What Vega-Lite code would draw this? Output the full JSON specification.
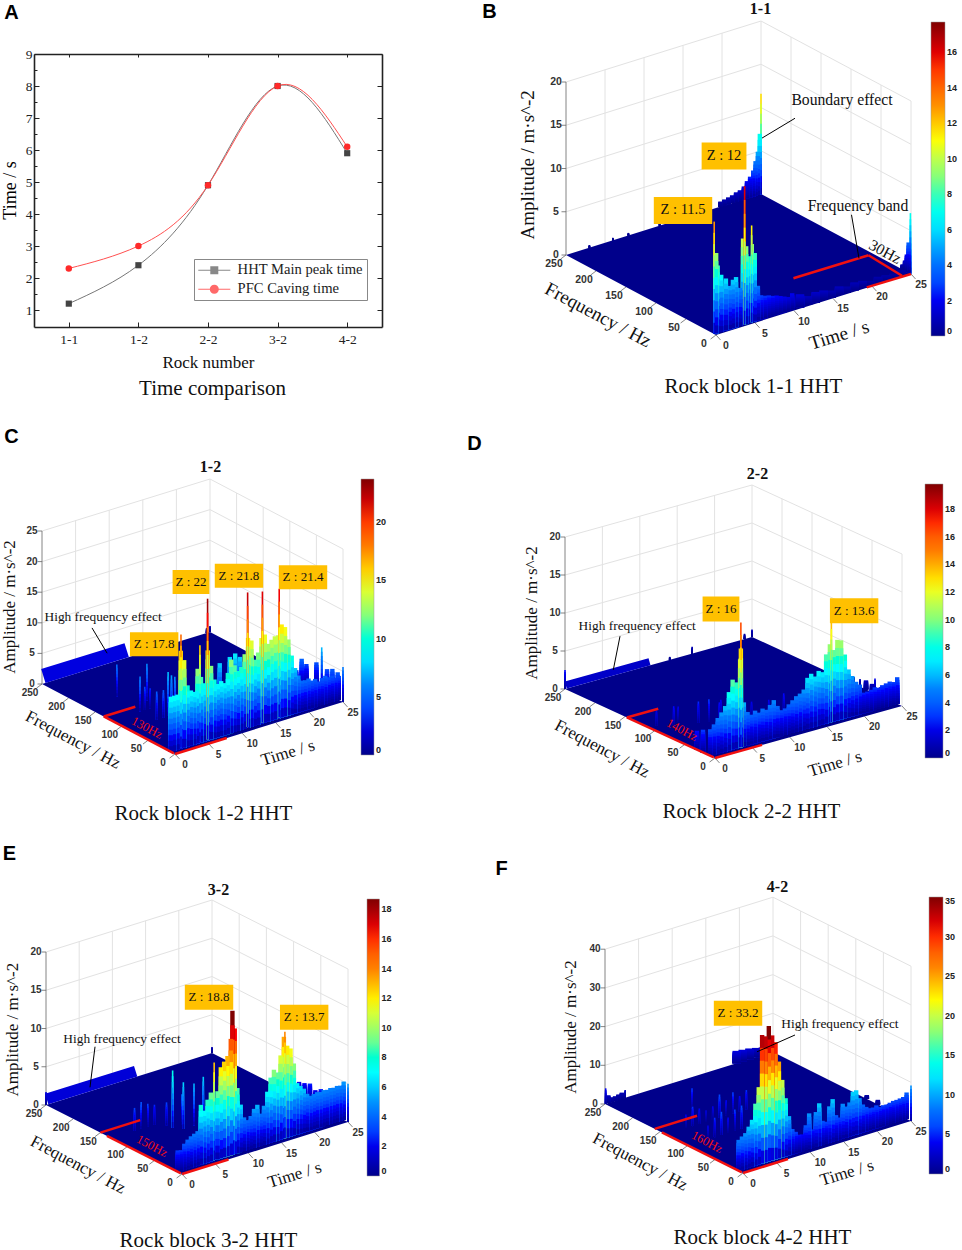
{"$schema":"https://vega.github.io/schema/vega-lite/v6.json","padding":0,"background":"white","columns":2,"spacing":0,"bounds":"flush","resolve":{"scale":{"color":"independent","shape":"independent"},"legend":{"color":"independent"}},
"config":{"view":{"stroke":null},"axisX":{"domain":false,"ticks":false,"labels":false,"grid":false,"titleFont":"Liberation Serif","titleFontSize":21,"titleFontWeight":"normal","titleAlign":"center","titleBaseline":"middle","titleColor":"#111"},"axisY":{"domain":false,"ticks":false,"labels":false,"grid":false,"titleFont":"Liberation Sans","titleFontSize":20,"titleFontWeight":"bold","titleAlign":"center","titleBaseline":"middle","titleColor":"#000"},"title":{"font":"Liberation Serif","fontSize":16,"fontWeight":"bold","offset":0,"baseline":"middle","anchor":"middle","color":"#111"},"legend":{"orient":"none","direction":"vertical","labelFont":"Liberation Sans","labelFontSize":9,"labelFontWeight":"bold","labelColor":"#222","labelOverlap":false,"gradientStrokeColor":"#999","gradientStrokeWidth":0.5}},
"datasets":{
"rocks":[{"rock":"1-1","series":"HHT Main peak time","time":1.2},{"rock":"1-2","series":"HHT Main peak time","time":2.4},{"rock":"2-2","series":"HHT Main peak time","time":4.9},{"rock":"3-2","series":"HHT Main peak time","time":8},{"rock":"4-2","series":"HHT Main peak time","time":5.9},{"rock":"1-1","series":"PFC Caving time","time":2.3},{"rock":"1-2","series":"PFC Caving time","time":3},{"rock":"2-2","series":"PFC Caving time","time":4.9},{"rock":"3-2","series":"PFC Caving time","time":8},{"rock":"4-2","series":"PFC Caving time","time":6.1}],
"b":[{"k":"g","t":0,"f":250,"z":5,"t2":25},{"k":"g","t":0,"f":250,"z":10,"t2":25},{"k":"g","t":0,"f":250,"z":15,"t2":25},{"k":"g","t":0,"f":250,"z":20,"t2":25},{"k":"g","t":25,"f":250,"z":5,"f2":0},{"k":"g","t":25,"f":250,"z":10,"f2":0},{"k":"g","t":25,"f":250,"z":15,"f2":0},{"k":"g","t":25,"f":250,"z":20,"f2":0},{"k":"g","t":5,"f":250,"z2":20},{"k":"g","t":10,"f":250,"z2":20},{"k":"g","t":15,"f":250,"z2":20},{"k":"g","t":20,"f":250,"z2":20},{"k":"g","t":25,"f":250,"z2":20},{"k":"g","t":25,"f":200,"z2":20},{"k":"g","t":25,"f":150,"z2":20},{"k":"g","t":25,"f":100,"z2":20},{"k":"g","t":25,"f":50,"z2":20},{"k":"g","t":25,"f":0,"z2":20},{"k":"a","f":250,"z2":20},
{"k":"tt","t":0},{"k":"tt","t":5},{"k":"tt","t":10},{"k":"tt","t":15},{"k":"tt","t":20},{"k":"tt","t":25},{"k":"ft","f":0},{"k":"ft","f":50},{"k":"ft","f":100},{"k":"ft","f":150},{"k":"ft","f":200},{"k":"ft","f":250},{"k":"zt","f":250,"z":0},{"k":"zt","f":250,"z":5},{"k":"zt","f":250,"z":10},{"k":"zt","f":250,"z":15},{"k":"zt","f":250,"z":20},
{"k":"s","t":0,"f":250},{"k":"s","t":19.23,"f":250,"t2":0,"f2":0},{"k":"s","t":25,"f":250,"t2":5.77,"f2":0},{"k":"s","t":25,"f":0},
{"k":"p","t":25,"f":250,"z":11.6},{"k":"m","t":24.85,"f":250,"z":7},{"k":"m","t":24.6,"f":250,"z":5},{"k":"m","t":24.3,"f":250,"z":4},{"k":"m","t":24,"f":250,"z":3},{"k":"m","t":23.6,"f":250,"z":2.4},{"k":"m","t":23.2,"f":250,"z":2},{"k":"m","t":22.8,"f":250,"z":1.5},{"k":"m","t":22.3,"f":250,"z":1.2},{"k":"m","t":21.8,"f":250,"z":1.1},{"k":"m","t":21.3,"f":250,"z":0.9},{"k":"m","t":20.8,"f":250,"z":0.8},{"k":"m","t":20.3,"f":250,"z":0.7},{"k":"m","t":19.8,"f":250,"z":0.6},{"k":"p","t":16,"f":250,"z":0.4},{"k":"p","t":12,"f":250,"z":0.4},{"k":"p","t":8,"f":250,"z":0.3},{"k":"p","t":6,"f":250,"z":0.3},{"k":"p","t":3,"f":250,"z":0.3},
{"k":"p","t":25,"f":1,"z":7},{"k":"m","t":25,"f":4,"z":3.5},{"k":"m","t":25,"f":7,"z":2},{"k":"m","t":25,"f":10,"z":1.2},{"k":"m","t":25,"f":14,"z":0.6},
{"k":"w","t":24,"f":3,"z":0.6},{"k":"w","t":23,"f":3,"z":0.5},{"k":"w","t":22,"f":3,"z":0.6},{"k":"w","t":21,"f":3,"z":0.7},{"k":"w","t":20,"f":3,"z":0.5},{"k":"w","t":19,"f":3,"z":0.8},{"k":"w","t":18,"f":3,"z":0.9},{"k":"w","t":17,"f":3,"z":0.7},{"k":"w","t":16,"f":3,"z":1},{"k":"w","t":15,"f":3,"z":0.8},{"k":"w","t":14,"f":3,"z":1.1},{"k":"w","t":13,"f":3,"z":1.2},{"k":"w","t":12,"f":3,"z":1},{"k":"w","t":11,"f":3,"z":1.5},
{"k":"m","t":10,"f":3,"z":1.9},{"k":"m","t":9.5,"f":3,"z":1.6},{"k":"m","t":9,"f":3,"z":1.8},{"k":"m","t":8.5,"f":3,"z":2},{"k":"m","t":8,"f":3,"z":2.2},{"k":"m","t":7.5,"f":3,"z":2.3},{"k":"m","t":7,"f":3,"z":2.5},{"k":"m","t":6.5,"f":3,"z":2.6},{"k":"m","t":6,"f":3,"z":2.8},{"k":"m","t":5.6,"f":3,"z":4},{"k":"m","t":5.2,"f":3,"z":7.9},{"k":"m","t":4.6,"f":3,"z":7.7},{"k":"p","t":5,"f":3,"z":9},{"k":"p","t":4.8,"f":3,"z":11.2},{"k":"m","t":4.1,"f":3,"z":9},{"k":"m","t":3.7,"f":3,"z":10},{"k":"p","t":3.9,"f":3,"z":16},{"k":"m","t":3.3,"f":3,"z":4.4},{"k":"m","t":2.8,"f":3,"z":5.8},{"k":"m","t":2.4,"f":3,"z":5.6},{"k":"m","t":2,"f":3,"z":5},{"k":"m","t":1.5,"f":3,"z":6},{"k":"m","t":0.9,"f":3,"z":6.6},{"k":"m","t":0.45,"f":3,"z":7.8},{"k":"m","t":0.25,"f":3,"z":9.3},{"k":"p","t":0,"f":3,"z":13},
{"k":"rl","t":14.85,"f":64,"t2":24.4,"f2":63},{"k":"rl","t":24.4,"f":63,"t2":24,"f2":2},{"k":"rl","t":19.4,"f":1,"t2":25,"f2":0},
{"k":"ln","t":10.13,"z":22.2,"t2":5.9,"z2":21.1},{"k":"ln","t":17.37,"z":9,"t2":18.33,"z2":3.7},
{"k":"b","text":"Z : 12","t":1.03,"z":20.4},{"k":"b","text":"Z : 11.5","t":-4.23,"z":15.6},{"k":"n","text":"Boundary effect","t":16.15,"z":22.6},{"k":"n","text":"Frequency band","t":18.2,"z":9.8},{"k":"aa","text":"30Hz","t":21.67,"z":3.5},{"k":"fl","text":"Frequency / Hz","t":-6.5,"f":112},{"k":"tl","text":"Time / s","t":9.95,"f":-76},{"k":"zl","text":"Amplitude / m·s^-2","t":-4.87,"f":250,"z":11.8}],
"c":[{"k":"g","t":0,"f":250,"z":5,"t2":25},{"k":"g","t":0,"f":250,"z":10,"t2":25},{"k":"g","t":0,"f":250,"z":15,"t2":25},{"k":"g","t":0,"f":250,"z":20,"t2":25},{"k":"g","t":0,"f":250,"z":25,"t2":25},{"k":"g","t":25,"f":250,"z":5,"f2":0},{"k":"g","t":25,"f":250,"z":10,"f2":0},{"k":"g","t":25,"f":250,"z":15,"f2":0},{"k":"g","t":25,"f":250,"z":20,"f2":0},{"k":"g","t":25,"f":250,"z":25,"f2":0},{"k":"g","t":5,"f":250,"z2":25},{"k":"g","t":10,"f":250,"z2":25},{"k":"g","t":15,"f":250,"z2":25},{"k":"g","t":20,"f":250,"z2":25},{"k":"g","t":25,"f":250,"z2":25},{"k":"g","t":25,"f":200,"z2":25},{"k":"g","t":25,"f":150,"z2":25},{"k":"g","t":25,"f":100,"z2":25},{"k":"g","t":25,"f":50,"z2":25},{"k":"g","t":25,"f":0,"z2":25},{"k":"a","f":250,"z2":25},
{"k":"tt","t":0},{"k":"tt","t":5},{"k":"tt","t":10},{"k":"tt","t":15},{"k":"tt","t":20},{"k":"tt","t":25},{"k":"ft","f":0},{"k":"ft","f":50},{"k":"ft","f":100},{"k":"ft","f":150},{"k":"ft","f":200},{"k":"ft","f":250},{"k":"zt","f":250,"z":0},{"k":"zt","f":250,"z":5},{"k":"zt","f":250,"z":10},{"k":"zt","f":250,"z":15},{"k":"zt","f":250,"z":20},{"k":"zt","f":250,"z":25},
{"k":"s","t":0,"f":250},{"k":"s","t":19.79,"f":250,"t2":0,"f2":0},{"k":"s","t":25,"f":250,"t2":5.21,"f2":0},{"k":"s","t":25,"f":0},
{"k":"st","t":0.2,"f":250,"z":1.25,"t2":12.6},
{"k":"p","t":25,"f":250,"z":1},{"k":"p","t":24.5,"f":250,"z":0.8},
{"k":"p","t":4.8,"f":170,"z":5.2},{"k":"p","t":6.9,"f":140,"z":6},{"k":"p","t":4.3,"f":120,"z":5.7},{"k":"p","t":5,"f":120,"z":3.8},{"k":"p","t":5.8,"f":120,"z":3.3},{"k":"p","t":6.8,"f":120,"z":2.1},{"k":"p","t":4.4,"f":90,"z":4.6},{"k":"p","t":5.4,"f":90,"z":4.5},{"k":"p","t":6.1,"f":90,"z":7.2},{"k":"p","t":6.6,"f":90,"z":6.5},{"k":"p","t":7.1,"f":90,"z":6.1},{"k":"m","t":12.2,"f":70,"z":7.5},{"k":"m","t":13.7,"f":70,"z":8},{"k":"m","t":14.5,"f":70,"z":8.3},{"k":"m","t":15.2,"f":70,"z":7.5},{"k":"p","t":21.8,"f":60,"z":2.5},{"k":"m","t":22.8,"f":60,"z":3.2},{"k":"m","t":23.6,"f":60,"z":4.8},{"k":"m","t":24.3,"f":60,"z":3.7},{"k":"m","t":25,"f":50,"z":4.2},{"k":"p","t":25,"f":40,"z":7.1},{"k":"m","t":25,"f":30,"z":4},{"k":"m","t":25,"f":20,"z":4.5},{"k":"m","t":25,"f":10,"z":4.4},{"k":"p","t":25,"f":0,"z":5.7},
{"k":"m","t":25,"f":8,"z":3.9},{"k":"m","t":24.5,"f":8,"z":3.7},{"k":"m","t":24,"f":8,"z":4.3},{"k":"m","t":23.5,"f":8,"z":4.2},{"k":"m","t":23,"f":8,"z":4.6},{"k":"m","t":22.5,"f":8,"z":4.4},{"k":"m","t":22,"f":8,"z":4},{"k":"m","t":21.5,"f":8,"z":4.6},{"k":"m","t":21,"f":8,"z":4.5},{"k":"m","t":20.5,"f":8,"z":5},{"k":"m","t":20,"f":8,"z":4.9},{"k":"m","t":19.5,"f":8,"z":5},{"k":"m","t":19,"f":8,"z":6},{"k":"m","t":18.5,"f":8,"z":7.4},{"k":"m","t":18,"f":8,"z":9.6},{"k":"m","t":17.5,"f":8,"z":12.4},{"k":"m","t":17,"f":8,"z":14.6},{"k":"m","t":16.5,"f":8,"z":15.2},{"k":"m","t":16,"f":8,"z":13.6},{"k":"m","t":15.5,"f":8,"z":13.6},{"k":"m","t":15,"f":8,"z":13.2},{"k":"m","t":14.5,"f":8,"z":12.7},{"k":"m","t":14,"f":8,"z":14.4},{"k":"m","t":13.5,"f":8,"z":14},{"k":"m","t":13,"f":8,"z":11.8},{"k":"m","t":12.5,"f":8,"z":10.8},{"k":"m","t":12,"f":8,"z":14.1},{"k":"m","t":11.5,"f":8,"z":14.7},{"k":"m","t":11,"f":8,"z":12.2},{"k":"m","t":10.5,"f":8,"z":10.3},{"k":"m","t":10,"f":8,"z":9.8},{"k":"m","t":9.5,"f":8,"z":10.9},{"k":"m","t":9,"f":8,"z":12},{"k":"m","t":8.5,"f":8,"z":10},{"k":"m","t":8,"f":8,"z":8.5},{"k":"m","t":7.5,"f":8,"z":9},{"k":"m","t":7,"f":8,"z":8.7},{"k":"m","t":6.5,"f":8,"z":9.6},{"k":"m","t":6,"f":8,"z":12},{"k":"m","t":5.5,"f":8,"z":14.7},{"k":"m","t":5,"f":8,"z":9.5},{"k":"m","t":4.5,"f":8,"z":10.7},{"k":"m","t":4,"f":8,"z":12.2},{"k":"m","t":3.5,"f":8,"z":8.6},{"k":"m","t":3,"f":8,"z":9},{"k":"m","t":2.5,"f":8,"z":10},{"k":"m","t":2,"f":8,"z":14.3},{"k":"m","t":1.5,"f":8,"z":16},{"k":"m","t":1,"f":8,"z":9},{"k":"m","t":0.5,"f":8,"z":9},{"k":"m","t":0,"f":8,"z":9},
{"k":"p","t":16.3,"f":10,"z":21},{"k":"p","t":13.8,"f":10,"z":21.4},{"k":"p","t":11.6,"f":10,"z":22},{"k":"p","t":5.64,"f":10,"z":23},{"k":"p","t":4.5,"f":10,"z":15.8},{"k":"p","t":1.68,"f":10,"z":18.5},
{"k":"rl","t":0,"f":2,"f2":134},{"k":"rl","t":0,"f":134,"t2":4.7},{"k":"rl","t":0,"f":0,"t2":7.7},
{"k":"ln","t":-12.35,"z":24.8,"t2":-10.1,"z2":19.9},
{"k":"b","text":"Z : 17.8","t":-3.1,"z":19},{"k":"b","text":"Z : 22","t":2.38,"z":27.3},{"k":"b","text":"Z : 21.8","t":9.52,"z":25.9},{"k":"b","text":"Z : 21.4","t":19.05,"z":22.4},{"k":"n","text":"High frequency effect","t":-10.7,"z":26},{"k":"r","text":"130Hz","t":-4.17,"z":5.7},{"k":"fl","text":"Frequency / Hz","t":-7.07,"f":102.5},{"k":"tl","text":"Time / s","t":10.77,"f":-76.4},{"k":"zl","text":"Amplitude / m·s^-2","t":-4.76,"f":250,"z":14.2}],
"d":[{"k":"g","t":0,"f":250,"z":5,"t2":25},{"k":"g","t":0,"f":250,"z":10,"t2":25},{"k":"g","t":0,"f":250,"z":15,"t2":25},{"k":"g","t":0,"f":250,"z":20,"t2":25},{"k":"g","t":25,"f":250,"z":5,"f2":0},{"k":"g","t":25,"f":250,"z":10,"f2":0},{"k":"g","t":25,"f":250,"z":15,"f2":0},{"k":"g","t":25,"f":250,"z":20,"f2":0},{"k":"g","t":5,"f":250,"z2":20},{"k":"g","t":10,"f":250,"z2":20},{"k":"g","t":15,"f":250,"z2":20},{"k":"g","t":20,"f":250,"z2":20},{"k":"g","t":25,"f":250,"z2":20},{"k":"g","t":25,"f":200,"z2":20},{"k":"g","t":25,"f":150,"z2":20},{"k":"g","t":25,"f":100,"z2":20},{"k":"g","t":25,"f":50,"z2":20},{"k":"g","t":25,"f":0,"z2":20},{"k":"a","f":250,"z2":20},
{"k":"tt","t":0},{"k":"tt","t":5},{"k":"tt","t":10},{"k":"tt","t":15},{"k":"tt","t":20},{"k":"tt","t":25},{"k":"ft","f":0},{"k":"ft","f":50},{"k":"ft","f":100},{"k":"ft","f":150},{"k":"ft","f":200},{"k":"ft","f":250},{"k":"zt","f":250,"z":0},{"k":"zt","f":250,"z":5},{"k":"zt","f":250,"z":10},{"k":"zt","f":250,"z":15},{"k":"zt","f":250,"z":20},
{"k":"s","t":0,"f":250},{"k":"s","t":20.05,"f":250,"t2":0,"f2":0},{"k":"s","t":25,"f":250,"t2":4.95,"f2":0},{"k":"s","t":25,"f":0},
{"k":"st","t":0.1,"f":250,"z":0.5,"t2":11.3},
{"k":"p","t":25,"f":250,"z":1},{"k":"p","t":24,"f":250,"z":0.7},{"k":"p","t":17,"f":250,"z":0.9},{"k":"p","t":14,"f":250,"z":0.4},{"k":"p","t":0,"f":250,"z":2.5},
{"k":"p","t":25,"f":80,"z":0.9},{"k":"p","t":25,"f":70,"z":1},{"k":"m","t":25,"f":60,"z":1.2},{"k":"m","t":25,"f":50,"z":1.1},{"k":"p","t":25,"f":45,"z":2},{"k":"m","t":25,"f":35,"z":1.2},{"k":"m","t":25,"f":25,"z":1.4},{"k":"m","t":25,"f":15,"z":1.6},
{"k":"p","t":1,"f":110,"z":2},{"k":"p","t":2.5,"f":100,"z":2.5},{"k":"p","t":3.5,"f":105,"z":2},{"k":"p","t":5,"f":90,"z":2.8},{"k":"p","t":6,"f":85,"z":3},{"k":"p","t":7,"f":80,"z":2.5},{"k":"p","t":8,"f":90,"z":2.2},{"k":"p","t":9,"f":70,"z":2.6},{"k":"p","t":10.5,"f":70,"z":2},{"k":"p","t":12,"f":60,"z":2.2},{"k":"p","t":14,"f":60,"z":2.5},{"k":"p","t":15,"f":50,"z":2},{"k":"m","t":0,"f":30,"z":2.5},{"k":"m","t":0,"f":20,"z":3},
{"k":"m","t":25,"f":8,"z":3.5},{"k":"m","t":24.5,"f":8,"z":3},{"k":"m","t":24,"f":8,"z":3.2},{"k":"m","t":23.5,"f":8,"z":3.1},{"k":"m","t":23,"f":8,"z":3},{"k":"m","t":22.5,"f":8,"z":2.8},{"k":"m","t":22,"f":8,"z":3},{"k":"m","t":21.5,"f":8,"z":2.8},{"k":"m","t":21,"f":8,"z":2.7},{"k":"m","t":20.5,"f":8,"z":2.7},{"k":"m","t":20,"f":8,"z":3.9},{"k":"m","t":19.5,"f":8,"z":4.4},{"k":"m","t":19,"f":8,"z":5.3},{"k":"m","t":18.5,"f":8,"z":6.3},{"k":"m","t":18,"f":8,"z":8.4},{"k":"m","t":17.5,"f":8,"z":10.4},{"k":"m","t":17,"f":8,"z":10.6},{"k":"m","t":16.5,"f":8,"z":9.4},{"k":"m","t":16,"f":8,"z":10.3},{"k":"m","t":15.5,"f":8,"z":9.1},{"k":"m","t":15,"f":8,"z":6.9},{"k":"m","t":14.5,"f":8,"z":7.2},{"k":"m","t":14,"f":8,"z":6.6},{"k":"m","t":13.5,"f":8,"z":7.1},{"k":"m","t":13,"f":8,"z":6.7},{"k":"m","t":12.5,"f":8,"z":5.3},{"k":"m","t":12,"f":8,"z":4.9},{"k":"m","t":11.5,"f":8,"z":4.7},{"k":"m","t":11,"f":8,"z":4.3},{"k":"m","t":10.5,"f":8,"z":3.9},{"k":"m","t":10,"f":8,"z":3.5},{"k":"m","t":9.5,"f":8,"z":3.4},{"k":"m","t":9,"f":8,"z":4.1},{"k":"m","t":8.5,"f":8,"z":5},{"k":"m","t":8,"f":8,"z":4.5},{"k":"m","t":7.5,"f":8,"z":4},{"k":"m","t":7,"f":8,"z":4.3},{"k":"m","t":6.5,"f":8,"z":3.9},{"k":"m","t":6,"f":8,"z":4.3},{"k":"m","t":5.5,"f":8,"z":3.9},{"k":"m","t":5,"f":8,"z":4.4},{"k":"m","t":4.5,"f":8,"z":5.8},{"k":"m","t":4,"f":8,"z":11.6},{"k":"m","t":3.5,"f":8,"z":8.7},{"k":"m","t":3,"f":8,"z":9.2},{"k":"m","t":2.5,"f":8,"z":7.7},{"k":"m","t":2,"f":8,"z":6},{"k":"m","t":1.5,"f":8,"z":5.3},{"k":"m","t":1,"f":8,"z":4.7},{"k":"m","t":0.5,"f":8,"z":4},{"k":"m","t":0,"f":8,"z":3.5},
{"k":"p","t":16.2,"f":8,"z":13.6},{"k":"m","t":4.1,"f":8,"z":13},{"k":"p","t":4.1,"f":8,"z":16.4},
{"k":"rl","t":0,"f":2,"f2":147},{"k":"rl","t":0,"f":147,"t2":4.2},{"k":"rl","t":0,"f":0,"t2":6.3},
{"k":"ln","t":-12.7,"z":19.5,"t2":-13.6,"z2":15.3},
{"k":"b","text":"Z : 16","t":0.8,"z":19.4},{"k":"b","text":"Z : 13.6","t":18.6,"z":14.3},{"k":"n","text":"High frequency effect","t":-10.4,"z":20.2},{"k":"r","text":"140Hz","t":-4.4,"z":4.9},{"k":"fl","text":"Frequency / Hz","t":-7.78,"f":91.3},{"k":"tl","text":"Time / s","t":8.92,"f":-89},{"k":"zl","text":"Amplitude / m·s^-2","t":-4.4,"f":250,"z":11.2}],
"e":[{"k":"g","t":0,"f":250,"z":5,"t2":25},{"k":"g","t":0,"f":250,"z":10,"t2":25},{"k":"g","t":0,"f":250,"z":15,"t2":25},{"k":"g","t":0,"f":250,"z":20,"t2":25},{"k":"g","t":25,"f":250,"z":5,"f2":0},{"k":"g","t":25,"f":250,"z":10,"f2":0},{"k":"g","t":25,"f":250,"z":15,"f2":0},{"k":"g","t":25,"f":250,"z":20,"f2":0},{"k":"g","t":5,"f":250,"z2":20},{"k":"g","t":10,"f":250,"z2":20},{"k":"g","t":15,"f":250,"z2":20},{"k":"g","t":20,"f":250,"z2":20},{"k":"g","t":25,"f":250,"z2":20},{"k":"g","t":25,"f":200,"z2":20},{"k":"g","t":25,"f":150,"z2":20},{"k":"g","t":25,"f":100,"z2":20},{"k":"g","t":25,"f":50,"z2":20},{"k":"g","t":25,"f":0,"z2":20},{"k":"a","f":250,"z2":20},
{"k":"tt","t":0},{"k":"tt","t":5},{"k":"tt","t":10},{"k":"tt","t":15},{"k":"tt","t":20},{"k":"tt","t":25},{"k":"ft","f":0},{"k":"ft","f":50},{"k":"ft","f":100},{"k":"ft","f":150},{"k":"ft","f":200},{"k":"ft","f":250},{"k":"zt","f":250,"z":0},{"k":"zt","f":250,"z":5},{"k":"zt","f":250,"z":10},{"k":"zt","f":250,"z":15},{"k":"zt","f":250,"z":20},
{"k":"s","t":0,"f":250},{"k":"s","t":20.48,"f":250,"t2":0,"f2":0},{"k":"s","t":25,"f":250,"t2":4.52,"f2":0},{"k":"s","t":25,"f":0},
{"k":"st","t":0.1,"f":250,"z":0.75,"t2":13.5},
{"k":"p","t":25,"f":250,"z":0.8},{"k":"p","t":0,"f":250,"z":1.7},
{"k":"m","t":25,"f":90,"z":2},{"k":"m","t":25,"f":80,"z":2.2},{"k":"m","t":25,"f":70,"z":2.5},{"k":"m","t":25,"f":60,"z":2},{"k":"m","t":25,"f":50,"z":2.5},{"k":"m","t":25,"f":40,"z":2.4},{"k":"m","t":25,"f":30,"z":2.8},{"k":"m","t":25,"f":20,"z":2.5},{"k":"m","t":25,"f":10,"z":3.5},{"k":"p","t":25,"f":0,"z":5},
{"k":"p","t":3.5,"f":130,"z":3},{"k":"p","t":4.5,"f":130,"z":3.5},{"k":"p","t":5.5,"f":130,"z":3},{"k":"p","t":6.5,"f":130,"z":2.6},{"k":"p","t":7.5,"f":120,"z":3},{"k":"p","t":7.6,"f":110,"z":7.5},{"k":"p","t":9,"f":110,"z":4},{"k":"p","t":8.4,"f":100,"z":6.1},{"k":"p","t":10,"f":100,"z":5.5},{"k":"p","t":11.4,"f":100,"z":6},{"k":"p","t":13,"f":90,"z":4},{"k":"p","t":15,"f":80,"z":3},{"k":"m","t":23,"f":70,"z":2.5},{"k":"m","t":21,"f":60,"z":2.2},
{"k":"m","t":25,"f":8,"z":5},{"k":"m","t":24.5,"f":8,"z":4.6},{"k":"m","t":24,"f":8,"z":4.7},{"k":"m","t":23.5,"f":8,"z":4.6},{"k":"m","t":23,"f":8,"z":4.7},{"k":"m","t":22.5,"f":8,"z":4.6},{"k":"m","t":22,"f":8,"z":4.7},{"k":"m","t":21.5,"f":8,"z":4.6},{"k":"m","t":21,"f":8,"z":4.7},{"k":"m","t":20.5,"f":8,"z":4.6},{"k":"m","t":20,"f":8,"z":4.5},{"k":"m","t":19.5,"f":8,"z":4.9},{"k":"m","t":19,"f":8,"z":5.7},{"k":"m","t":18.5,"f":8,"z":6.2},{"k":"m","t":18,"f":8,"z":6.7},{"k":"m","t":17.5,"f":8,"z":9.4},{"k":"m","t":17,"f":8,"z":11.5},{"k":"m","t":16.5,"f":8,"z":12},{"k":"m","t":16,"f":8,"z":13.3},{"k":"m","t":15.5,"f":8,"z":11},{"k":"m","t":15,"f":8,"z":8.9},{"k":"m","t":14.5,"f":8,"z":9.4},{"k":"m","t":14,"f":8,"z":8.5},{"k":"m","t":13.5,"f":8,"z":6.8},{"k":"m","t":13,"f":8,"z":5.1},{"k":"m","t":12.5,"f":8,"z":4.2},{"k":"m","t":12,"f":8,"z":5.5},{"k":"m","t":11.5,"f":8,"z":5.1},{"k":"m","t":11,"f":8,"z":4.3},{"k":"m","t":10.5,"f":8,"z":3.9},{"k":"m","t":10,"f":8,"z":4.4},{"k":"m","t":9.5,"f":8,"z":6.2},{"k":"m","t":9,"f":8,"z":8.5},{"k":"m","t":8.6,"f":8,"z":16.4},{"k":"m","t":8.25,"f":8,"z":18.8},{"k":"m","t":8,"f":8,"z":15.2},{"k":"m","t":7.5,"f":8,"z":13.1},{"k":"m","t":7,"f":8,"z":12.5},{"k":"m","t":6.5,"f":8,"z":11.9},{"k":"m","t":6,"f":8,"z":8.9},{"k":"p","t":5.5,"f":8,"z":12.8},{"k":"m","t":5,"f":8,"z":9},{"k":"m","t":4.5,"f":8,"z":8.2},{"k":"m","t":4,"f":8,"z":6.9},{"k":"m","t":3.5,"f":8,"z":7.8},{"k":"m","t":3,"f":8,"z":4.5},{"k":"m","t":2.5,"f":8,"z":4.3},{"k":"m","t":2,"f":8,"z":4.1},{"k":"m","t":1.5,"f":8,"z":3.8},{"k":"m","t":1,"f":8,"z":3.4},{"k":"m","t":0.5,"f":8,"z":2.7},{"k":"m","t":0,"f":8,"z":2.8},
{"k":"p","t":16.15,"f":8,"z":13.9},
{"k":"rl","t":0,"f":2,"f2":138},{"k":"rl","t":0,"f":150,"t2":6},{"k":"rl","t":0,"f":0,"t2":7},
{"k":"ln","t":-13.1,"z":20.2,"t2":-13.86,"z2":15.1},
{"k":"b","text":"Z : 18.8","t":4.07,"z":22},{"k":"b","text":"Z : 13.7","t":18.4,"z":15.5},{"k":"n","text":"High frequency effect","t":-9.04,"z":20.1},{"k":"r","text":"150Hz","t":-4.52,"z":4.9},{"k":"fl","text":"Frequency / Hz","t":-8.04,"f":93.2},{"k":"tl","text":"Time / s","t":10.3,"f":-81.5},{"k":"zl","text":"Amplitude / m·s^-2","t":-4.97,"f":250,"z":11.2}],
"f":[{"k":"g","t":0,"f":250,"z":10,"t2":25},{"k":"g","t":0,"f":250,"z":20,"t2":25},{"k":"g","t":0,"f":250,"z":30,"t2":25},{"k":"g","t":0,"f":250,"z":40,"t2":25},{"k":"g","t":25,"f":250,"z":10,"f2":0},{"k":"g","t":25,"f":250,"z":20,"f2":0},{"k":"g","t":25,"f":250,"z":30,"f2":0},{"k":"g","t":25,"f":250,"z":40,"f2":0},{"k":"g","t":5,"f":250,"z2":40},{"k":"g","t":10,"f":250,"z2":40},{"k":"g","t":15,"f":250,"z2":40},{"k":"g","t":20,"f":250,"z2":40},{"k":"g","t":25,"f":250,"z2":40},{"k":"g","t":25,"f":200,"z2":40},{"k":"g","t":25,"f":150,"z2":40},{"k":"g","t":25,"f":100,"z2":40},{"k":"g","t":25,"f":50,"z2":40},{"k":"g","t":25,"f":0,"z2":40},{"k":"a","f":250,"z2":40},
{"k":"tt","t":0},{"k":"tt","t":5},{"k":"tt","t":10},{"k":"tt","t":15},{"k":"tt","t":20},{"k":"tt","t":25},{"k":"ft","f":0},{"k":"ft","f":50},{"k":"ft","f":100},{"k":"ft","f":150},{"k":"ft","f":200},{"k":"ft","f":250},{"k":"zt","f":250,"z":0},{"k":"zt","f":250,"z":10},{"k":"zt","f":250,"z":20},{"k":"zt","f":250,"z":30},{"k":"zt","f":250,"z":40},
{"k":"s","t":0,"f":250},{"k":"s","t":20.54,"f":250,"t2":0,"f2":0},{"k":"s","t":25,"f":250,"t2":4.46,"f2":0},{"k":"s","t":25,"f":0},
{"k":"w","t":24.5,"f":250,"z":1.5},{"k":"w","t":23.5,"f":250,"z":2},{"k":"w","t":22.5,"f":250,"z":2.4},{"k":"w","t":21.5,"f":250,"z":2.8},{"k":"w","t":20.5,"f":250,"z":3},{"k":"w","t":19.6,"f":250,"z":3.2},{"k":"p","t":3,"f":250,"z":2},{"k":"m","t":2.5,"f":250,"z":1.6},{"k":"m","t":2,"f":250,"z":1.4},{"k":"m","t":1.5,"f":250,"z":1.2},{"k":"m","t":1,"f":250,"z":1.2},{"k":"m","t":0.5,"f":250,"z":2},{"k":"p","t":0.1,"f":250,"z":4},
{"k":"m","t":25,"f":80,"z":1},{"k":"m","t":25,"f":60,"z":1.2},{"k":"m","t":25,"f":40,"z":1.5},{"k":"m","t":25,"f":20,"z":2},
{"k":"p","t":7.2,"f":180,"z":5.2},{"k":"p","t":3,"f":140,"z":3.5},{"k":"p","t":4,"f":140,"z":5},{"k":"p","t":5,"f":140,"z":4},{"k":"p","t":6,"f":140,"z":3},{"k":"p","t":7,"f":140,"z":3.5},{"k":"p","t":8,"f":140,"z":6},{"k":"p","t":9,"f":140,"z":4},{"k":"p","t":10,"f":140,"z":5.5},{"k":"p","t":11,"f":140,"z":4},{"k":"p","t":12,"f":140,"z":5},{"k":"p","t":3,"f":100,"z":3.5},{"k":"p","t":4,"f":100,"z":5},{"k":"p","t":5,"f":100,"z":6},{"k":"p","t":6,"f":100,"z":4},{"k":"p","t":7,"f":100,"z":5.5},{"k":"p","t":8,"f":100,"z":6},
{"k":"m","t":25,"f":8,"z":6.8},{"k":"m","t":24.5,"f":8,"z":5.9},{"k":"m","t":24,"f":8,"z":5.8},{"k":"m","t":23.5,"f":8,"z":5.7},{"k":"m","t":23,"f":8,"z":5.7},{"k":"m","t":22.5,"f":8,"z":5.5},{"k":"m","t":22,"f":8,"z":5.3},{"k":"m","t":21.5,"f":8,"z":5.4},{"k":"m","t":21,"f":8,"z":5.2},{"k":"m","t":20.5,"f":8,"z":5.9},{"k":"m","t":20,"f":8,"z":5.6},{"k":"m","t":19.5,"f":8,"z":5.7},{"k":"m","t":19,"f":8,"z":6.3},{"k":"m","t":18.5,"f":8,"z":7.2},{"k":"m","t":18,"f":8,"z":9.1},{"k":"m","t":17.5,"f":8,"z":11.4},{"k":"m","t":17,"f":8,"z":11.3},{"k":"m","t":16.5,"f":8,"z":8.8},{"k":"m","t":16,"f":8,"z":8},{"k":"m","t":15.5,"f":8,"z":9},{"k":"m","t":15,"f":8,"z":5.7},{"k":"m","t":14.5,"f":8,"z":6.6},{"k":"m","t":14,"f":8,"z":11},{"k":"m","t":13.5,"f":8,"z":9.4},{"k":"m","t":13,"f":8,"z":5.7},{"k":"m","t":12.5,"f":8,"z":6.2},{"k":"m","t":12,"f":8,"z":11},{"k":"m","t":11.5,"f":8,"z":9},{"k":"m","t":11,"f":8,"z":4.8},{"k":"m","t":10.5,"f":8,"z":9.2},{"k":"m","t":10,"f":8,"z":6.4},{"k":"m","t":9.5,"f":8,"z":4.3},{"k":"m","t":9,"f":8,"z":4.5},{"k":"m","t":8.5,"f":8,"z":5.5},{"k":"m","t":8,"f":8,"z":6.5},{"k":"m","t":7.5,"f":8,"z":10.1},{"k":"m","t":7,"f":8,"z":15},{"k":"m","t":6.5,"f":8,"z":20},{"k":"m","t":6,"f":8,"z":25},{"k":"m","t":5.5,"f":8,"z":30.3},{"k":"m","t":5,"f":8,"z":32.3},{"k":"m","t":4.5,"f":8,"z":35},{"k":"m","t":4,"f":8,"z":32.6},{"k":"m","t":3.5,"f":8,"z":33.2},{"k":"m","t":3,"f":8,"z":20},{"k":"m","t":2.5,"f":8,"z":16},{"k":"m","t":2,"f":8,"z":12.1},{"k":"m","t":1.5,"f":8,"z":10.6},{"k":"m","t":1,"f":8,"z":9.2},{"k":"m","t":0.5,"f":8,"z":8.6},{"k":"m","t":0,"f":8,"z":8},
{"k":"p","t":25,"f":0,"z":9.2},
{"k":"rl","t":0,"f":2,"f2":147},{"k":"rl","t":0,"f":160,"t2":6.3},{"k":"rl","t":0,"f":0,"t2":6.7},
{"k":"ln","t":7.74,"z":31.5,"t2":2.08,"z2":30.2},
{"k":"b","text":"Z : 33.2","t":-0.74,"z":41.7},{"k":"n","text":"High frequency effect","t":14.43,"z":30.7},{"k":"r","text":"160Hz","t":-5.36,"z":10.9},{"k":"fl","text":"Frequency / Hz","t":-7.44,"f":96},{"k":"tl","text":"Time / s","t":9.56,"f":-72},{"k":"zl","text":"Amplitude / m·s^-2","t":-5.06,"f":250,"z":22.6}]
},
"concat":[
{"width":481,"height":415,"data":{"name":"rocks"},"resolve":{"axis":{"x":"independent","y":"independent"}},"encoding":{"x":{"field":"rock","type":"ordinal","scale":{"type":"point","padding":0.5,"range":[34,382]},"axis":null},"y":{"field":"time","type":"quantitative","scale":{"domain":[0.47,9],"range":[327,54]},"axis":null}},"layer":[
{"transform":[{"filter":"datum.series=='HHT Main peak time'"}],"mark":{"type":"line","interpolate":"natural","strokeWidth":1,"stroke":"#777"},"encoding":{"x":{"field":"rock","type":"ordinal","axis":{"orient":"bottom","offset":-88,"domain":true,"domainWidth":1.6,"domainColor":"#222","ticks":true,"tickColor":"#222","tickSize":-5,"labels":true,"labelAngle":0,"labelFont":"Liberation Serif","labelFontSize":13.5,"labelColor":"#222","labelPadding":10,"title":"Rock number","titleFontSize":17,"titleX":208,"titleY":35}},"y":{"field":"time","type":"quantitative","axis":{"orient":"left","offset":-34,"domain":true,"domainWidth":1.6,"domainColor":"#222","ticks":true,"tickColor":"#222","tickSize":-5,"values":[1,2,3,4,5,6,7,8,9],"labels":true,"labelFont":"Liberation Serif","labelFontSize":13.5,"labelColor":"#222","labelPadding":7,"title":"Time / s","titleFont":"Liberation Serif","titleFontSize":18,"titleFontWeight":"normal","titleX":-24,"titleY":190}}}},
{"transform":[{"filter":"datum.series=='PFC Caving time'"}],"mark":{"type":"line","interpolate":"natural","strokeWidth":1,"stroke":"#ff5050"}},
{"transform":[{"filter":"datum.series=='HHT Main peak time'"}],"mark":{"type":"point","shape":"square","filled":true,"size":38,"fill":"#444","opacity":1}},
{"transform":[{"filter":"datum.series=='PFC Caving time'"}],"mark":{"type":"point","shape":"circle","filled":true,"size":42,"fill":"#ff2a2a","opacity":1}},
{"mark":{"type":"point","filled":true,"size":0},"encoding":{"color":{"field":"series","type":"nominal","scale":{"domain":["HHT Main peak time","PFC Caving time"],"range":["#555555","#ff2a2a"]},"legend":{"legendX":194,"legendY":259,"title":null,"strokeColor":"#888","padding":4,"labelFont":"Liberation Serif","labelFontSize":14.6,"labelFontWeight":"normal","labelLimit":200,"symbolSize":114,"symbolOffset":9,"labelOffset":16,"rowPadding":4}},"shape":{"field":"series","type":"nominal","scale":{"domain":["HHT Main peak time","PFC Caving time"],"range":["M-3,-0.1H3V0.1H-3Z M-0.75,-0.75H0.75V0.75H-0.75Z","M-3,-0.1H3V0.1H-3Z M-0.85,0A0.85,0.85 0 1,1 0.85,0A0.85,0.85 0 1,1 -0.85,0Z"]},"legend":{"legendX":194,"legendY":259,"title":null}}}},
{"mark":{"type":"point","opacity":0},"encoding":{"x":{"field":"rock","type":"ordinal","axis":{"orient":"top","offset":-54,"domain":true,"domainWidth":1.6,"domainColor":"#222","ticks":true,"tickColor":"#222","tickSize":-3,"title":"Time comparison","titleX":212,"titleY":334}},"y":{"field":"time","type":"quantitative","axis":{"orient":"right","offset":-99,"domain":true,"domainWidth":1.6,"domainColor":"#222","ticks":true,"tickColor":"#222","tickSize":-5,"values":[1,2,3,4,5,6,7,8,9],"title":"A","titleAngle":0,"titleX":-371,"titleY":12}}}},
{"mark":{"type":"point","opacity":0},"encoding":{"y":{"field":"time","type":"quantitative","axis":{"orient":"left","offset":-34,"ticks":true,"tickColor":"#222","tickSize":-3,"values":[1.5,2.5,3.5,4.5,5.5,6.5,7.5,8.5],"title":null}}}}
]},
{"width":481,"height":415,"title":{"text":"1-1","dx":39,"dy":21},"data":{"name":"b"},"resolve":{"axis":{"x":"independent","y":"independent"}},
"transform":[{"calculate":"datum.k=='tt'?10:datum.k=='ft'?-12:datum.k=='zt'?-10:0","as":"dx"},{"calculate":"datum.k=='tt'?11:datum.k=='ft'?9:0","as":"dy"},{"calculate":"235+7.8*(datum.t||0)-0.6*(datum.f||0)","as":"bx"},{"calculate":"335-2.44*(datum.t||0)-0.32*(datum.f||0)-8.65*(datum.z||0)","as":"by"},{"calculate":"datum.dx||datum.dy?datum.bx+0.45*datum.dx:235+7.8*(isValid(datum.t2)?datum.t2:datum.t||0)-0.6*(isValid(datum.f2)?datum.f2:datum.f||0)","as":"x1"},{"calculate":"datum.dx||datum.dy?datum.by+0.45*datum.dy:335-2.44*(isValid(datum.t2)?datum.t2:datum.t||0)-0.32*(isValid(datum.f2)?datum.f2:datum.f||0)-8.65*(isValid(datum.z2)?datum.z2:datum.z||0)","as":"y1"}],
"encoding":{"x":{"field":"bx","type":"quantitative","scale":{"domain":[0,481]},"axis":null},"y":{"field":"by","type":"quantitative","scale":{"domain":[415,0]},"axis":null}},
"layer":[
{"transform":[{"filter":"datum.k=='g'"}],"mark":{"type":"rule","stroke":"#e2e2e2","strokeWidth":1},"encoding":{"x":{"field":"bx","type":"quantitative","axis":{"orient":"top","title":"Rock block 1-1 HHT","titleX":272,"titleY":386}},"y":{"field":"by","type":"quantitative","axis":{"orient":"left","title":"B","titleAngle":0,"titleX":8,"titleY":11}},"x2":{"field":"x1"},"y2":{"field":"y1"}}},
{"transform":[{"filter":"indexof(['a','tt','ft','zt'],datum.k)>=0"}],"mark":{"type":"rule","stroke":"#666","strokeWidth":0.8},"encoding":{"x2":{"field":"x1"},"y2":{"field":"y1"}}},
{"transform":[{"filter":"datum.k=='s'"}],"mark":{"type":"area","orient":"vertical","fill":"#00008b"},"encoding":{"y2":{"field":"y1"}}},
{"transform":[{"filter":"indexof(['m','p','w'],datum.k)>=0"},{"calculate":"[1,0.9,0.8,0.7,0.6,0.5,0.4,0.3,0.2,0.1]","as":"lv"},{"flatten":["lv"]},{"calculate":"datum.z*datum.lv","as":"amp"},{"calculate":"datum.by+(1-datum.lv)*datum.z*8.65","as":"ys"},{"calculate":"datum.by+datum.z*8.65","as":"yb"},{"calculate":"datum.k=='m'?4.4:datum.k=='w'?8.5:1.6","as":"w"}],"mark":"rule","encoding":{"y":{"field":"ys","type":"quantitative","axis":null},"y2":{"field":"yb"},"size":{"field":"w","type":"quantitative","scale":null},"color":{"field":"amp","type":"quantitative","scale":{"clamp":true,"domain":[0,2.21,4.43,6.64,8.85,11.06,13.28,15.49,17.7],"range":["#00008b","#0000ff","#007fff","#00ffff","#7fff7f","#ffff00","#ff7f00","#ff0000","#800000"]},"legend":{"title":null,"legendX":450,"legendY":22,"gradientLength":314,"gradientThickness":14,"values":[0,2,4,6,8,10,12,14,16]}}}},
{"transform":[{"filter":"datum.k=='rl'"}],"mark":{"type":"rule","stroke":"#f01010","strokeWidth":2.5},"encoding":{"x2":{"field":"x1"},"y2":{"field":"y1"}}},
{"transform":[{"filter":"datum.k=='ln'"}],"mark":{"type":"rule","stroke":"#000","strokeWidth":1},"encoding":{"x2":{"field":"x1"},"y2":{"field":"y1"}}},
{"transform":[{"filter":"datum.k=='b'"},{"calculate":"datum.bx-length(datum.text)*3.4-2","as":"xl"},{"calculate":"datum.bx+length(datum.text)*3.4+2","as":"xr"}],"mark":{"type":"rule","stroke":"#ffc000","strokeWidth":27},"encoding":{"x":{"field":"xl","type":"quantitative","axis":null},"x2":{"field":"xr"}}},
{"transform":[{"filter":"indexof(['b','n','aa','fl','tl','zl'],datum.k)>=0"},{"calculate":"datum.k=='fl'||datum.k=='aa'?28:datum.k=='tl'?-17:datum.k=='zl'?-90:0","as":"ang"},{"calculate":"datum.k=='b'?14.5:datum.k=='n'||datum.k=='aa'?15.7:19","as":"fs"}],"mark":{"type":"text","font":"Liberation Serif","fill":"#111"},"encoding":{"text":{"field":"text"},"angle":{"field":"ang","type":"quantitative","scale":null},"size":{"field":"fs","type":"quantitative","scale":null}}},
{"transform":[{"filter":"indexof(['tt','ft','zt'],datum.k)>=0"},{"calculate":"datum.bx+datum.dx","as":"x0"},{"calculate":"datum.by+datum.dy","as":"y0"},{"calculate":"''+(datum.k=='tt'?datum.t:datum.k=='ft'?datum.f:datum.z)","as":"lab"}],"mark":{"type":"text","font":"Liberation Sans","fontWeight":"bold","fontSize":10.5,"fill":"#333"},"encoding":{"x":{"field":"x0","type":"quantitative","axis":null},"y":{"field":"y0","type":"quantitative","axis":null},"text":{"field":"lab"}}}
]},
{"width":481,"height":425,"title":{"text":"1-2","dx":-30,"dy":64},"data":{"name":"c"},"resolve":{"axis":{"x":"independent","y":"independent"}},
"transform":[{"calculate":"datum.k=='tt'?10:datum.k=='ft'?-12:datum.k=='zt'?-10:0","as":"dx"},{"calculate":"datum.k=='tt'?11:datum.k=='ft'?9:0","as":"dy"},{"calculate":"175+6.72*(datum.t||0)-0.532*(datum.f||0)","as":"bx"},{"calculate":"339-2.08*(datum.t||0)-0.28*(datum.f||0)-6.12*(datum.z||0)","as":"by"},{"calculate":"datum.dx||datum.dy?datum.bx+0.45*datum.dx:175+6.72*(isValid(datum.t2)?datum.t2:datum.t||0)-0.532*(isValid(datum.f2)?datum.f2:datum.f||0)","as":"x1"},{"calculate":"datum.dx||datum.dy?datum.by+0.45*datum.dy:339-2.08*(isValid(datum.t2)?datum.t2:datum.t||0)-0.28*(isValid(datum.f2)?datum.f2:datum.f||0)-6.12*(isValid(datum.z2)?datum.z2:datum.z||0)","as":"y1"}],
"encoding":{"x":{"field":"bx","type":"quantitative","scale":{"domain":[0,481]},"axis":null},"y":{"field":"by","type":"quantitative","scale":{"domain":[425,0]},"axis":null}},
"layer":[
{"transform":[{"filter":"datum.k=='g'"}],"mark":{"type":"rule","stroke":"#e2e2e2","strokeWidth":1},"encoding":{"x":{"field":"bx","type":"quantitative","axis":{"orient":"top","title":"Rock block 1-2 HHT","titleX":203,"titleY":398}},"y":{"field":"by","type":"quantitative","axis":{"orient":"left","title":"C","titleAngle":0,"titleX":11,"titleY":21}},"x2":{"field":"x1"},"y2":{"field":"y1"}}},
{"transform":[{"filter":"indexof(['a','tt','ft','zt'],datum.k)>=0"}],"mark":{"type":"rule","stroke":"#666","strokeWidth":0.8},"encoding":{"x2":{"field":"x1"},"y2":{"field":"y1"}}},
{"transform":[{"filter":"datum.k=='s'"}],"mark":{"type":"area","orient":"vertical","fill":"#00008b"},"encoding":{"y2":{"field":"y1"}}},
{"transform":[{"filter":"datum.k=='st'"}],"mark":{"type":"rule","stroke":"#0000e0","strokeWidth":14.6},"encoding":{"x2":{"field":"x1"},"y2":{"field":"y1"}}},
{"transform":[{"filter":"indexof(['m','p','w'],datum.k)>=0"},{"calculate":"[1,0.9,0.8,0.7,0.6,0.5,0.4,0.3,0.2,0.1]","as":"lv"},{"flatten":["lv"]},{"calculate":"datum.z*datum.lv","as":"amp"},{"calculate":"datum.by+(1-datum.lv)*datum.z*6.12","as":"ys"},{"calculate":"datum.by+datum.z*6.12","as":"yb"},{"calculate":"datum.k=='m'?4.4:datum.k=='w'?8.5:1.6","as":"w"}],"mark":"rule","encoding":{"y":{"field":"ys","type":"quantitative","axis":null},"y2":{"field":"yb"},"size":{"field":"w","type":"quantitative","scale":null},"color":{"field":"amp","type":"quantitative","scale":{"clamp":true,"domain":[0,2.96,5.93,8.89,11.85,14.81,17.78,20.74,23.7],"range":["#00008b","#0000ff","#007fff","#00ffff","#7fff7f","#ffff00","#ff7f00","#ff0000","#800000"]},"legend":{"title":null,"legendX":361,"legendY":64,"gradientLength":276,"gradientThickness":13,"values":[0,5,10,15,20]}}}},
{"transform":[{"filter":"datum.k=='rl'"}],"mark":{"type":"rule","stroke":"#f01010","strokeWidth":2.5},"encoding":{"x2":{"field":"x1"},"y2":{"field":"y1"}}},
{"transform":[{"filter":"datum.k=='ln'"}],"mark":{"type":"rule","stroke":"#000","strokeWidth":1},"encoding":{"x2":{"field":"x1"},"y2":{"field":"y1"}}},
{"transform":[{"filter":"datum.k=='b'"},{"calculate":"datum.bx-length(datum.text)*2.9-1","as":"xl"},{"calculate":"datum.bx+length(datum.text)*2.9+1","as":"xr"}],"mark":{"type":"rule","stroke":"#ffc000","strokeWidth":24},"encoding":{"x":{"field":"xl","type":"quantitative","axis":null},"x2":{"field":"xr"}}},
{"transform":[{"filter":"indexof(['b','n','aa','fl','tl','zl'],datum.k)>=0"},{"calculate":"datum.k=='fl'||datum.k=='aa'?28:datum.k=='tl'?-17:datum.k=='zl'?-90:0","as":"ang"},{"calculate":"datum.k=='b'?13:datum.k=='n'||datum.k=='aa'?13.4:17","as":"fs"}],"mark":{"type":"text","font":"Liberation Serif","fill":"#111"},"encoding":{"text":{"field":"text"},"angle":{"field":"ang","type":"quantitative","scale":null},"size":{"field":"fs","type":"quantitative","scale":null}}},
{"transform":[{"filter":"datum.k=='r'"}],"mark":{"type":"text","font":"Liberation Serif","fill":"#f01010","fontSize":12.5,"angle":28},"encoding":{"text":{"field":"text"}}},
{"transform":[{"filter":"indexof(['tt','ft','zt'],datum.k)>=0"},{"calculate":"datum.bx+datum.dx","as":"x0"},{"calculate":"datum.by+datum.dy","as":"y0"},{"calculate":"''+(datum.k=='tt'?datum.t:datum.k=='ft'?datum.f:datum.z)","as":"lab"}],"mark":{"type":"text","font":"Liberation Sans","fontWeight":"bold","fontSize":10,"fill":"#333"},"encoding":{"x":{"field":"x0","type":"quantitative","axis":null},"y":{"field":"y0","type":"quantitative","axis":null},"text":{"field":"lab"}}}
]},
{"width":481,"height":425,"title":{"text":"2-2","dx":36,"dy":71},"data":{"name":"d"},"resolve":{"axis":{"x":"independent","y":"independent"}},
"transform":[{"calculate":"datum.k=='tt'?10:datum.k=='ft'?-12:datum.k=='zt'?-10:0","as":"dx"},{"calculate":"datum.k=='tt'?11:datum.k=='ft'?9:0","as":"dy"},{"calculate":"234+7.48*(datum.t||0)-0.6*(datum.f||0)","as":"bx"},{"calculate":"343-2.08*(datum.t||0)-0.276*(datum.f||0)-7.6*(datum.z||0)","as":"by"},{"calculate":"datum.dx||datum.dy?datum.bx+0.45*datum.dx:234+7.48*(isValid(datum.t2)?datum.t2:datum.t||0)-0.6*(isValid(datum.f2)?datum.f2:datum.f||0)","as":"x1"},{"calculate":"datum.dx||datum.dy?datum.by+0.45*datum.dy:343-2.08*(isValid(datum.t2)?datum.t2:datum.t||0)-0.276*(isValid(datum.f2)?datum.f2:datum.f||0)-7.6*(isValid(datum.z2)?datum.z2:datum.z||0)","as":"y1"}],
"encoding":{"x":{"field":"bx","type":"quantitative","scale":{"domain":[0,481]},"axis":null},"y":{"field":"by","type":"quantitative","scale":{"domain":[425,0]},"axis":null}},
"layer":[
{"transform":[{"filter":"datum.k=='g'"}],"mark":{"type":"rule","stroke":"#e2e2e2","strokeWidth":1},"encoding":{"x":{"field":"bx","type":"quantitative","axis":{"orient":"top","title":"Rock block 2-2 HHT","titleX":270,"titleY":396}},"y":{"field":"by","type":"quantitative","axis":{"orient":"left","title":"D","titleAngle":0,"titleX":-7,"titleY":28}},"x2":{"field":"x1"},"y2":{"field":"y1"}}},
{"transform":[{"filter":"indexof(['a','tt','ft','zt'],datum.k)>=0"}],"mark":{"type":"rule","stroke":"#666","strokeWidth":0.8},"encoding":{"x2":{"field":"x1"},"y2":{"field":"y1"}}},
{"transform":[{"filter":"datum.k=='s'"}],"mark":{"type":"area","orient":"vertical","fill":"#00008b"},"encoding":{"y2":{"field":"y1"}}},
{"transform":[{"filter":"datum.k=='st'"}],"mark":{"type":"rule","stroke":"#0000c8","strokeWidth":7.3},"encoding":{"x2":{"field":"x1"},"y2":{"field":"y1"}}},
{"transform":[{"filter":"indexof(['m','p','w'],datum.k)>=0"},{"calculate":"[1,0.9,0.8,0.7,0.6,0.5,0.4,0.3,0.2,0.1]","as":"lv"},{"flatten":["lv"]},{"calculate":"datum.z*datum.lv","as":"amp"},{"calculate":"datum.by+(1-datum.lv)*datum.z*7.6","as":"ys"},{"calculate":"datum.by+datum.z*7.6","as":"yb"},{"calculate":"datum.k=='m'?4.4:datum.k=='w'?8.5:1.6","as":"w"}],"mark":"rule","encoding":{"y":{"field":"ys","type":"quantitative","axis":null},"y2":{"field":"yb"},"size":{"field":"w","type":"quantitative","scale":null},"color":{"field":"amp","type":"quantitative","scale":{"clamp":true,"domain":[0,2.48,4.95,7.43,9.9,12.38,14.85,17.33,19.8],"range":["#00008b","#0000ff","#007fff","#00ffff","#7fff7f","#ffff00","#ff7f00","#ff0000","#800000"]},"legend":{"title":null,"legendX":444,"legendY":69,"gradientLength":274,"gradientThickness":18,"values":[0,2,4,6,8,10,12,14,16,18]}}}},
{"transform":[{"filter":"datum.k=='rl'"}],"mark":{"type":"rule","stroke":"#f01010","strokeWidth":2.5},"encoding":{"x2":{"field":"x1"},"y2":{"field":"y1"}}},
{"transform":[{"filter":"datum.k=='ln'"}],"mark":{"type":"rule","stroke":"#000","strokeWidth":1},"encoding":{"x2":{"field":"x1"},"y2":{"field":"y1"}}},
{"transform":[{"filter":"datum.k=='b'"},{"calculate":"datum.bx-length(datum.text)*2.9-1","as":"xl"},{"calculate":"datum.bx+length(datum.text)*2.9+1","as":"xr"}],"mark":{"type":"rule","stroke":"#ffc000","strokeWidth":25},"encoding":{"x":{"field":"xl","type":"quantitative","axis":null},"x2":{"field":"xr"}}},
{"transform":[{"filter":"indexof(['b','n','aa','fl','tl','zl'],datum.k)>=0"},{"calculate":"datum.k=='fl'||datum.k=='aa'?28:datum.k=='tl'?-17:datum.k=='zl'?-90:0","as":"ang"},{"calculate":"datum.k=='b'?13:datum.k=='n'||datum.k=='aa'?13.4:17","as":"fs"}],"mark":{"type":"text","font":"Liberation Serif","fill":"#111"},"encoding":{"text":{"field":"text"},"angle":{"field":"ang","type":"quantitative","scale":null},"size":{"field":"fs","type":"quantitative","scale":null}}},
{"transform":[{"filter":"datum.k=='r'"}],"mark":{"type":"text","font":"Liberation Serif","fill":"#f01010","fontSize":12.5,"angle":28},"encoding":{"text":{"field":"text"}}},
{"transform":[{"filter":"indexof(['tt','ft','zt'],datum.k)>=0"},{"calculate":"datum.bx+datum.dx","as":"x0"},{"calculate":"datum.by+datum.dy","as":"y0"},{"calculate":"''+(datum.k=='tt'?datum.t:datum.k=='ft'?datum.f:datum.z)","as":"lab"}],"mark":{"type":"text","font":"Liberation Sans","fontWeight":"bold","fontSize":10,"fill":"#333"},"encoding":{"x":{"field":"x0","type":"quantitative","axis":null},"y":{"field":"y0","type":"quantitative","axis":null},"text":{"field":"lab"}}}
]},
{"width":481,"height":410,"title":{"text":"3-2","dx":-22,"dy":62},"data":{"name":"e"},"resolve":{"axis":{"x":"independent","y":"independent"}},
"transform":[{"calculate":"datum.k=='tt'?10:datum.k=='ft'?-12:datum.k=='zt'?-10:0","as":"dx"},{"calculate":"datum.k=='tt'?11:datum.k=='ft'?9:0","as":"dy"},{"calculate":"182+6.64*(datum.t||0)-0.544*(datum.f||0)","as":"bx"},{"calculate":"334-2.08*(datum.t||0)-0.276*(datum.f||0)-7.65*(datum.z||0)","as":"by"},{"calculate":"datum.dx||datum.dy?datum.bx+0.45*datum.dx:182+6.64*(isValid(datum.t2)?datum.t2:datum.t||0)-0.544*(isValid(datum.f2)?datum.f2:datum.f||0)","as":"x1"},{"calculate":"datum.dx||datum.dy?datum.by+0.45*datum.dy:334-2.08*(isValid(datum.t2)?datum.t2:datum.t||0)-0.276*(isValid(datum.f2)?datum.f2:datum.f||0)-7.65*(isValid(datum.z2)?datum.z2:datum.z||0)","as":"y1"}],
"encoding":{"x":{"field":"bx","type":"quantitative","scale":{"domain":[0,481]},"axis":null},"y":{"field":"by","type":"quantitative","scale":{"domain":[410,0]},"axis":null}},
"layer":[
{"transform":[{"filter":"datum.k=='g'"}],"mark":{"type":"rule","stroke":"#e2e2e2","strokeWidth":1},"encoding":{"x":{"field":"bx","type":"quantitative","axis":{"orient":"top","title":"Rock block 3-2 HHT","titleX":208,"titleY":400}},"y":{"field":"by","type":"quantitative","axis":{"orient":"left","title":"E","titleAngle":0,"titleX":9,"titleY":13}},"x2":{"field":"x1"},"y2":{"field":"y1"}}},
{"transform":[{"filter":"indexof(['a','tt','ft','zt'],datum.k)>=0"}],"mark":{"type":"rule","stroke":"#666","strokeWidth":0.8},"encoding":{"x2":{"field":"x1"},"y2":{"field":"y1"}}},
{"transform":[{"filter":"datum.k=='s'"}],"mark":{"type":"area","orient":"vertical","fill":"#00008b"},"encoding":{"y2":{"field":"y1"}}},
{"transform":[{"filter":"datum.k=='st'"}],"mark":{"type":"rule","stroke":"#0000d8","strokeWidth":11},"encoding":{"x2":{"field":"x1"},"y2":{"field":"y1"}}},
{"transform":[{"filter":"indexof(['m','p','w'],datum.k)>=0"},{"calculate":"[1,0.9,0.8,0.7,0.6,0.5,0.4,0.3,0.2,0.1]","as":"lv"},{"flatten":["lv"]},{"calculate":"datum.z*datum.lv","as":"amp"},{"calculate":"datum.by+(1-datum.lv)*datum.z*7.65","as":"ys"},{"calculate":"datum.by+datum.z*7.65","as":"yb"},{"calculate":"datum.k=='m'?4.4:datum.k=='w'?8.5:1.6","as":"w"}],"mark":"rule","encoding":{"y":{"field":"ys","type":"quantitative","axis":null},"y2":{"field":"yb"},"size":{"field":"w","type":"quantitative","scale":null},"color":{"field":"amp","type":"quantitative","scale":{"clamp":true,"domain":[0,2.34,4.68,7.01,9.35,11.69,14.03,16.36,18.7],"range":["#00008b","#0000ff","#007fff","#00ffff","#7fff7f","#ffff00","#ff7f00","#ff0000","#800000"]},"legend":{"title":null,"legendX":367,"legendY":59,"gradientLength":277,"gradientThickness":12.5,"values":[0,2,4,6,8,10,12,14,16,18]}}}},
{"transform":[{"filter":"datum.k=='rl'"}],"mark":{"type":"rule","stroke":"#f01010","strokeWidth":2.5},"encoding":{"x2":{"field":"x1"},"y2":{"field":"y1"}}},
{"transform":[{"filter":"datum.k=='ln'"}],"mark":{"type":"rule","stroke":"#000","strokeWidth":1},"encoding":{"x2":{"field":"x1"},"y2":{"field":"y1"}}},
{"transform":[{"filter":"datum.k=='b'"},{"calculate":"datum.bx-length(datum.text)*2.9-1","as":"xl"},{"calculate":"datum.bx+length(datum.text)*2.9+1","as":"xr"}],"mark":{"type":"rule","stroke":"#ffc000","strokeWidth":25},"encoding":{"x":{"field":"xl","type":"quantitative","axis":null},"x2":{"field":"xr"}}},
{"transform":[{"filter":"indexof(['b','n','aa','fl','tl','zl'],datum.k)>=0"},{"calculate":"datum.k=='fl'||datum.k=='aa'?28:datum.k=='tl'?-17:datum.k=='zl'?-90:0","as":"ang"},{"calculate":"datum.k=='b'?13:datum.k=='n'||datum.k=='aa'?13.4:17","as":"fs"}],"mark":{"type":"text","font":"Liberation Serif","fill":"#111"},"encoding":{"text":{"field":"text"},"angle":{"field":"ang","type":"quantitative","scale":null},"size":{"field":"fs","type":"quantitative","scale":null}}},
{"transform":[{"filter":"datum.k=='r'"}],"mark":{"type":"text","font":"Liberation Serif","fill":"#f01010","fontSize":12.5,"angle":28},"encoding":{"text":{"field":"text"}}},
{"transform":[{"filter":"indexof(['tt','ft','zt'],datum.k)>=0"},{"calculate":"datum.bx+datum.dx","as":"x0"},{"calculate":"datum.by+datum.dy","as":"y0"},{"calculate":"''+(datum.k=='tt'?datum.t:datum.k=='ft'?datum.f:datum.z)","as":"lab"}],"mark":{"type":"text","font":"Liberation Sans","fontWeight":"bold","fontSize":10,"fill":"#333"},"encoding":{"x":{"field":"x0","type":"quantitative","axis":null},"y":{"field":"y0","type":"quantitative","axis":null},"text":{"field":"lab"}}}
]},
{"width":481,"height":410,"title":{"text":"4-2","dx":56,"dy":59},"data":{"name":"f"},"resolve":{"axis":{"x":"independent","y":"independent"}},
"transform":[{"calculate":"datum.k=='tt'?10:datum.k=='ft'?-12:datum.k=='zt'?-10:0","as":"dx"},{"calculate":"datum.k=='tt'?11:datum.k=='ft'?9:0","as":"dy"},{"calculate":"262+6.72*(datum.t||0)-0.552*(datum.f||0)","as":"bx"},{"calculate":"333-2.08*(datum.t||0)-0.276*(datum.f||0)-3.87*(datum.z||0)","as":"by"},{"calculate":"datum.dx||datum.dy?datum.bx+0.45*datum.dx:262+6.72*(isValid(datum.t2)?datum.t2:datum.t||0)-0.552*(isValid(datum.f2)?datum.f2:datum.f||0)","as":"x1"},{"calculate":"datum.dx||datum.dy?datum.by+0.45*datum.dy:333-2.08*(isValid(datum.t2)?datum.t2:datum.t||0)-0.276*(isValid(datum.f2)?datum.f2:datum.f||0)-3.87*(isValid(datum.z2)?datum.z2:datum.z||0)","as":"y1"}],
"encoding":{"x":{"field":"bx","type":"quantitative","scale":{"domain":[0,481]},"axis":null},"y":{"field":"by","type":"quantitative","scale":{"domain":[410,0]},"axis":null}},
"layer":[
{"transform":[{"filter":"datum.k=='g'"}],"mark":{"type":"rule","stroke":"#e2e2e2","strokeWidth":1},"encoding":{"x":{"field":"bx","type":"quantitative","axis":{"orient":"top","title":"Rock block 4-2 HHT","titleX":281,"titleY":397}},"y":{"field":"by","type":"quantitative","axis":{"orient":"left","title":"F","titleAngle":0,"titleX":20,"titleY":28}},"x2":{"field":"x1"},"y2":{"field":"y1"}}},
{"transform":[{"filter":"indexof(['a','tt','ft','zt'],datum.k)>=0"}],"mark":{"type":"rule","stroke":"#666","strokeWidth":0.8},"encoding":{"x2":{"field":"x1"},"y2":{"field":"y1"}}},
{"transform":[{"filter":"datum.k=='s'"}],"mark":{"type":"area","orient":"vertical","fill":"#00008b"},"encoding":{"y2":{"field":"y1"}}},
{"transform":[{"filter":"indexof(['m','p','w'],datum.k)>=0"},{"calculate":"[1,0.9,0.8,0.7,0.6,0.5,0.4,0.3,0.2,0.1]","as":"lv"},{"flatten":["lv"]},{"calculate":"datum.z*datum.lv","as":"amp"},{"calculate":"datum.by+(1-datum.lv)*datum.z*3.87","as":"ys"},{"calculate":"datum.by+datum.z*3.87","as":"yb"},{"calculate":"datum.k=='m'?4.4:datum.k=='w'?8.5:1.6","as":"w"}],"mark":"rule","encoding":{"y":{"field":"ys","type":"quantitative","axis":null},"y2":{"field":"yb"},"size":{"field":"w","type":"quantitative","scale":null},"color":{"field":"amp","type":"quantitative","scale":{"clamp":true,"domain":[0,4.38,8.75,13.13,17.5,21.88,26.25,30.63,35],"range":["#00008b","#0000ff","#007fff","#00ffff","#7fff7f","#ffff00","#ff7f00","#ff0000","#800000"]},"legend":{"title":null,"legendX":448,"legendY":57,"gradientLength":277,"gradientThickness":14,"values":[0,5,10,15,20,25,30,35]}}}},
{"transform":[{"filter":"datum.k=='rl'"}],"mark":{"type":"rule","stroke":"#f01010","strokeWidth":2.5},"encoding":{"x2":{"field":"x1"},"y2":{"field":"y1"}}},
{"transform":[{"filter":"datum.k=='ln'"}],"mark":{"type":"rule","stroke":"#000","strokeWidth":1},"encoding":{"x2":{"field":"x1"},"y2":{"field":"y1"}}},
{"transform":[{"filter":"datum.k=='b'"},{"calculate":"datum.bx-length(datum.text)*2.9-1","as":"xl"},{"calculate":"datum.bx+length(datum.text)*2.9+1","as":"xr"}],"mark":{"type":"rule","stroke":"#ffc000","strokeWidth":25},"encoding":{"x":{"field":"xl","type":"quantitative","axis":null},"x2":{"field":"xr"}}},
{"transform":[{"filter":"indexof(['b','n','aa','fl','tl','zl'],datum.k)>=0"},{"calculate":"datum.k=='fl'||datum.k=='aa'?28:datum.k=='tl'?-17:datum.k=='zl'?-90:0","as":"ang"},{"calculate":"datum.k=='b'?13:datum.k=='n'||datum.k=='aa'?13.4:17","as":"fs"}],"mark":{"type":"text","font":"Liberation Serif","fill":"#111"},"encoding":{"text":{"field":"text"},"angle":{"field":"ang","type":"quantitative","scale":null},"size":{"field":"fs","type":"quantitative","scale":null}}},
{"transform":[{"filter":"datum.k=='r'"}],"mark":{"type":"text","font":"Liberation Serif","fill":"#f01010","fontSize":12.5,"angle":28},"encoding":{"text":{"field":"text"}}},
{"transform":[{"filter":"indexof(['tt','ft','zt'],datum.k)>=0"},{"calculate":"datum.bx+datum.dx","as":"x0"},{"calculate":"datum.by+datum.dy","as":"y0"},{"calculate":"''+(datum.k=='tt'?datum.t:datum.k=='ft'?datum.f:datum.z)","as":"lab"}],"mark":{"type":"text","font":"Liberation Sans","fontWeight":"bold","fontSize":10,"fill":"#333"},"encoding":{"x":{"field":"x0","type":"quantitative","axis":null},"y":{"field":"y0","type":"quantitative","axis":null},"text":{"field":"lab"}}}
]}
]}
